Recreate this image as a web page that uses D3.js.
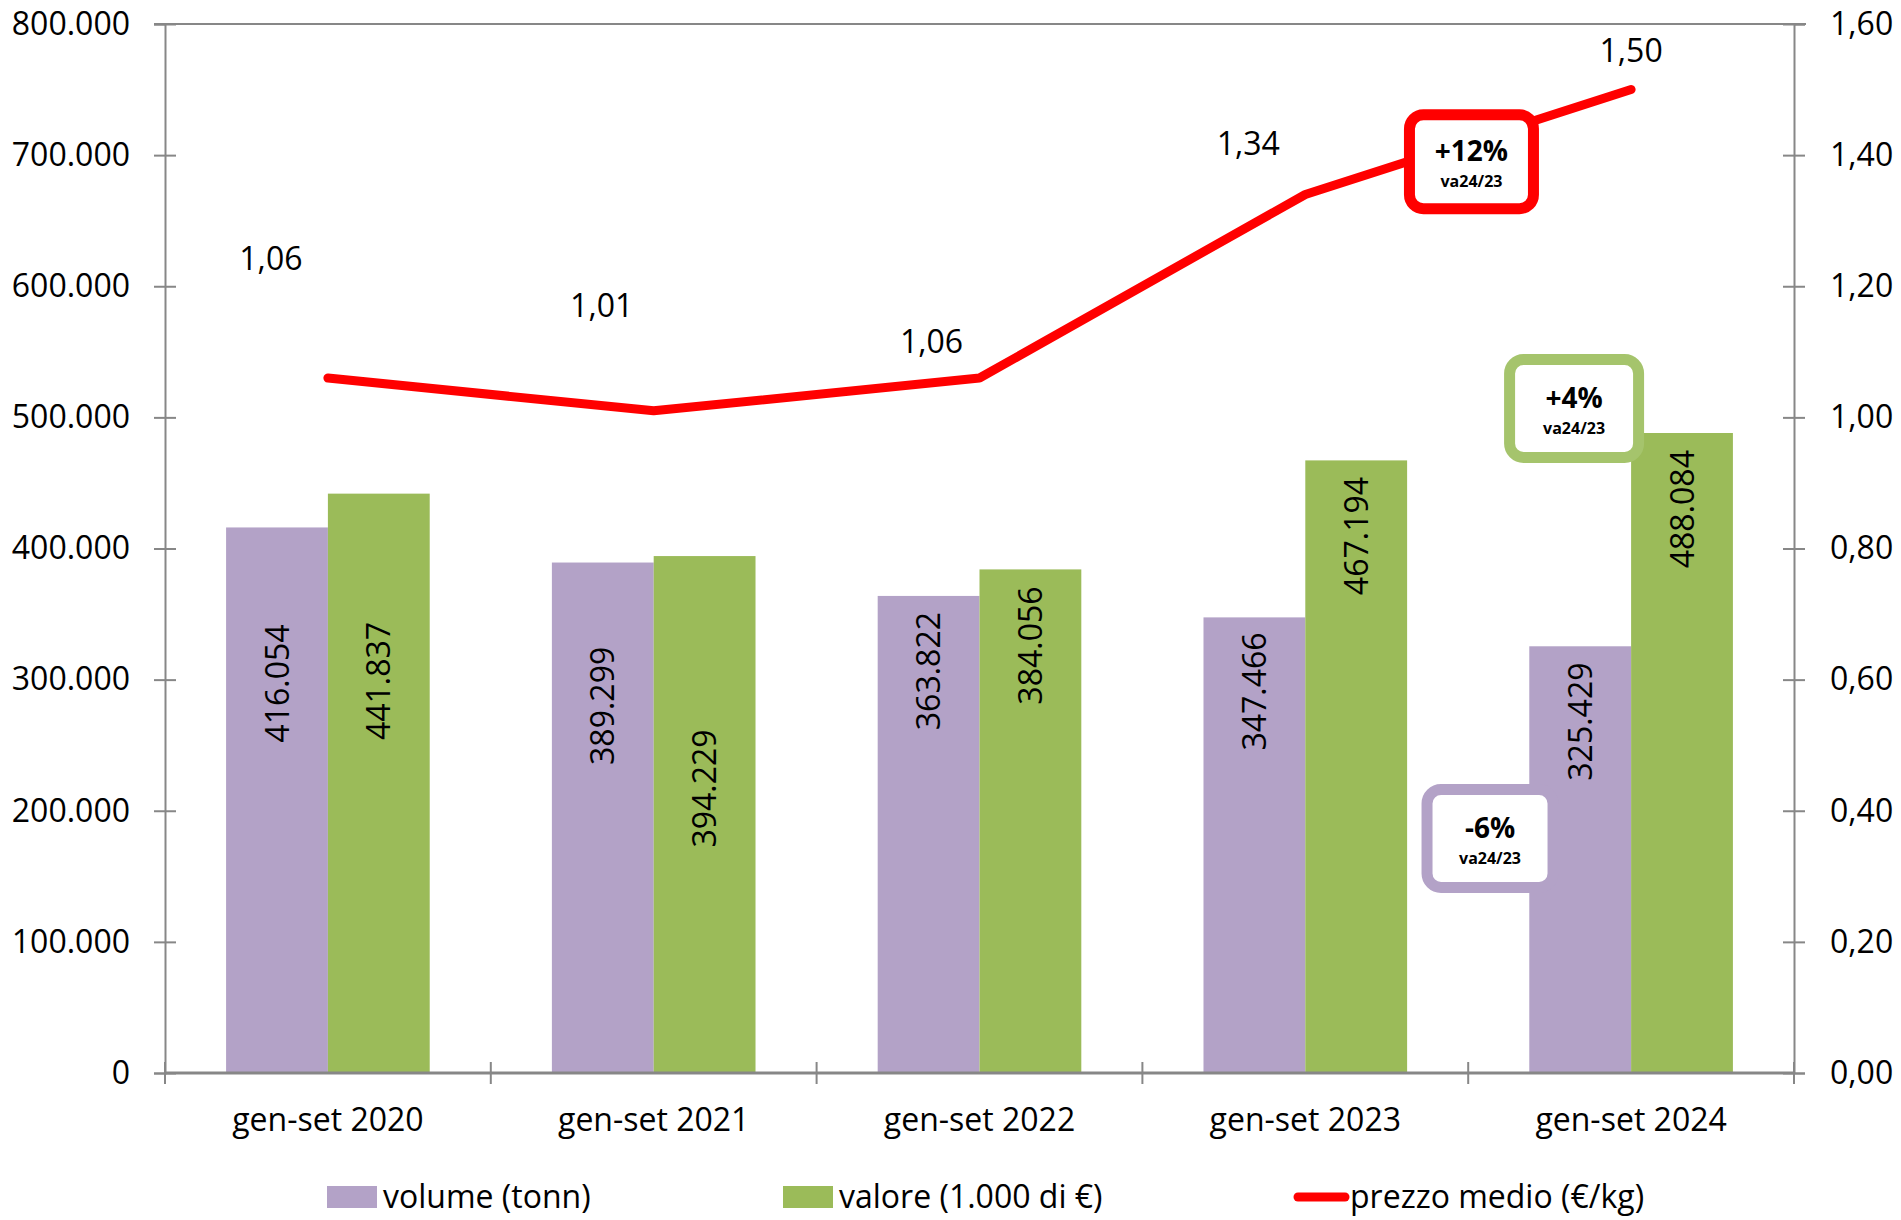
<!DOCTYPE html>
<html>
<head>
<meta charset="utf-8">
<script src="https://cdn.jsdelivr.net/npm/d3@7/dist/d3.min.js"></script>
<style>
  html, body { margin: 0; padding: 0; background: #fff; }
  svg { display: block; }
  text { font-family: "Open Sans", "Noto Sans", sans-serif; fill: #000; }
</style>
</head>
<body>
<svg id="chart" width="1901" height="1220"></svg>
<script>
// ---- data ----
const categories = ["gen-set 2020", "gen-set 2021", "gen-set 2022", "gen-set 2023", "gen-set 2024"];
const volume = [416054, 389299, 363822, 347466, 325429];
const valore = [441837, 394229, 384056, 467194, 488084];
const prezzo = [1.06, 1.01, 1.06, 1.34, 1.50];
const leftTicks = [0, 100000, 200000, 300000, 400000, 500000, 600000, 700000, 800000];
const rightTicks = [0, 0.2, 0.4, 0.6, 0.8, 1.0, 1.2, 1.4, 1.6];
const seriesNames = ["volume (tonn)", "valore (1.000 di €)", "prezzo medio (€/kg)"];
// where the (manually placed) bar labels sit, in left-axis units
const volumeLabelAt = [297000, 280000, 306500, 291000, 268000];
const valoreLabelAt = [299000, 217000, 326000, 409500, 430000];
// annotation boxes
const noteTexts = ["+12%", "+4%", "-6%"];
const noteSub = ["va24/23", "va24/23", "va24/23"];
const notePos = [4.01, 4.325, 4.067];       // in category units
const noteValue = [1.39, 506800, 178800];    // in axis units (right, left, left)
const noteAxis = ["right", "left", "left"];

// ---- style / layout ----
const W = 1901, H = 1220;
const L = 165, R = 1794, T = 24, B = 1073;
const cPurple = "#B3A2C7", cGreen = "#9BBB59", cRed = "#FF0000", cAxis = "#878787";
const noteColor = [cRed, "#A5C46C", cPurple];
const noteSize = [[124, 94], [129, 98], [126, 98]];
const prezzoLabelOffset = [[-57, -120], [-52, -105], [-48, -37], [-57, -51], [0, -39]];
const FS = 32;

const it = d3.formatLocale({decimal: ",", thousands: ".", grouping: [3], currency: ["€", ""]});
const fmtInt = it.format(",.0f");
const fmt2 = it.format(",.2f");

const svg = d3.select("#chart");

const x0 = d3.scaleBand().domain(categories).range([L, R]).paddingInner(0.375).paddingOuter(0.1875);
const x1 = d3.scaleBand().domain(["vol", "val"]).range([0, x0.bandwidth()]);
const xPos = d3.scaleLinear().domain([0, categories.length]).range([L, R]);
const yL = d3.scaleLinear().domain([0, 800000]).range([B, T]);
const yR = d3.scaleLinear().domain([0, 1.6]).range([B, T]);
const cx = i => x0(categories[i]) + x0.bandwidth() / 2;

// top border
svg.append("line").attr("x1", L - 11).attr("x2", R + 12).attr("y1", T).attr("y2", T)
  .attr("stroke", cAxis).attr("stroke-width", 2);

// left axis
const gL = svg.append("g").attr("transform", `translate(${L},0)`)
  .call(d3.axisLeft(yL).tickValues(leftTicks).tickFormat(fmtInt).tickSize(11).tickPadding(24));
gL.select(".domain").attr("stroke", cAxis).attr("stroke-width", 2);
gL.selectAll(".tick line").attr("x1", 11).attr("stroke", cAxis).attr("stroke-width", 2);
gL.selectAll(".tick text").attr("font-size", FS).attr("font-family", "Open Sans").attr("fill", "#000");

// right axis
const gR = svg.append("g").attr("transform", `translate(${R},0)`)
  .call(d3.axisRight(yR).tickValues(rightTicks).tickFormat(fmt2).tickSize(11).tickPadding(25));
gR.select(".domain").attr("stroke", cAxis).attr("stroke-width", 2);
gR.selectAll(".tick line").attr("x1", -11).attr("stroke", cAxis).attr("stroke-width", 2);
gR.selectAll(".tick text").attr("font-size", FS).attr("font-family", "Open Sans").attr("fill", "#000");

// bars
const gBars = svg.append("g");
categories.forEach((c, i) => {
  gBars.append("rect").attr("x", x0(c) + x1("vol")).attr("width", x1.bandwidth())
    .attr("y", yL(volume[i])).attr("height", yL(0) - yL(volume[i])).attr("fill", cPurple);
  gBars.append("rect").attr("x", x0(c) + x1("val")).attr("width", x1.bandwidth())
    .attr("y", yL(valore[i])).attr("height", yL(0) - yL(valore[i])).attr("fill", cGreen);
});

// x axis
svg.append("line").attr("x1", L).attr("x2", R).attr("y1", B).attr("y2", B)
  .attr("stroke", cAxis).attr("stroke-width", 3);
d3.range(categories.length + 1).forEach(i => {
  svg.append("line").attr("x1", xPos(i)).attr("x2", xPos(i)).attr("y1", B - 11).attr("y2", B + 11)
    .attr("stroke", cAxis).attr("stroke-width", 2);
});
categories.forEach((c, i) => {
  svg.append("text").attr("x", cx(i)).attr("y", 1121).attr("dy", "0.32em")
    .attr("text-anchor", "middle").attr("font-size", FS).text(c);
});

// bar labels
categories.forEach((c, i) => {
  const xv = x0(c) + x1("vol") + x1.bandwidth() / 2;
  const xa = x0(c) + x1("val") + x1.bandwidth() / 2;
  svg.append("text").attr("transform", `translate(${xv},${yL(volumeLabelAt[i])}) rotate(-90)`)
    .attr("text-anchor", "middle").attr("dy", "0.36em").attr("font-size", FS).text(fmtInt(volume[i]));
  svg.append("text").attr("transform", `translate(${xa},${yL(valoreLabelAt[i])}) rotate(-90)`)
    .attr("text-anchor", "middle").attr("dy", "0.36em").attr("font-size", FS).text(fmtInt(valore[i]));
});

// price line
const line = d3.line().x((d, i) => cx(i)).y(d => yR(d));
svg.append("path").datum(prezzo).attr("d", line).attr("fill", "none")
  .attr("stroke", cRed).attr("stroke-width", 9).attr("stroke-linecap", "round").attr("stroke-linejoin", "round");

// price labels
prezzo.forEach((p, i) => {
  svg.append("text").attr("x", cx(i) + prezzoLabelOffset[i][0]).attr("y", yR(p) + prezzoLabelOffset[i][1])
    .attr("dy", "0.36em").attr("text-anchor", "middle").attr("font-size", FS).text(fmt2(p));
});

// annotation boxes
noteTexts.forEach((t, i) => {
  const x = xPos(notePos[i]);
  const y = noteAxis[i] === "right" ? yR(noteValue[i]) : yL(noteValue[i]);
  const [w, h] = noteSize[i];
  const g = svg.append("g").attr("transform", `translate(${x},${y})`);
  g.append("rect").attr("x", -w / 2).attr("y", -h / 2).attr("width", w).attr("height", h)
    .attr("rx", 14).attr("ry", 14).attr("fill", "#fff").attr("stroke", noteColor[i]).attr("stroke-width", 11);
  g.append("text").attr("x", 0).attr("y", -11).attr("dy", "0.36em").attr("text-anchor", "middle")
    .attr("font-size", 28).attr("font-weight", "bold").text(t);
  g.append("text").attr("x", 0).attr("y", 20).attr("dy", "0.36em").attr("text-anchor", "middle")
    .attr("font-size", 16).attr("font-weight", "bold").text(noteSub[i]);
});

// legend
const legY = 1197;
const legX = [327, 783, 1294];
const legColors = [cPurple, cGreen, cRed];
seriesNames.forEach((n, i) => {
  if (i < 2) {
    svg.append("rect").attr("x", legX[i]).attr("y", legY - 11).attr("width", 50).attr("height", 22).attr("fill", legColors[i]);
  } else {
    svg.append("line").attr("x1", legX[i] + 4).attr("x2", legX[i] + 51).attr("y1", legY).attr("y2", legY)
      .attr("stroke", cRed).attr("stroke-width", 9).attr("stroke-linecap", "round");
  }
  svg.append("text").attr("x", legX[i] + 56).attr("y", legY).attr("dy", "0.34em")
    .attr("font-size", FS).text(n);
});
</script>
</body>
</html>
